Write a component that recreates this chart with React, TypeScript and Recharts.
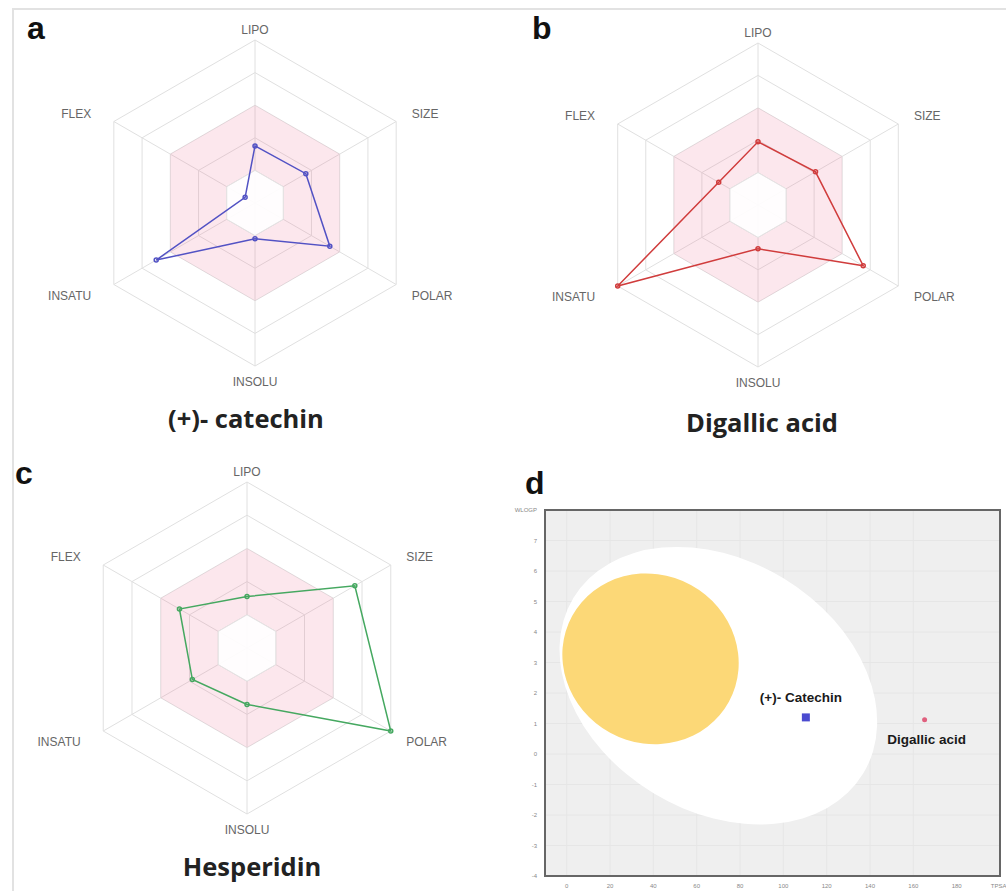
import React from "react";
import * as R from "recharts";

const {
  RadarChart,
  Radar,
  PolarGrid,
  PolarAngleAxis,
  PolarRadiusAxis,
  ScatterChart,
  Scatter,
  XAxis,
  YAxis,
  ZAxis,
  CartesianGrid,
  Customized,
  LabelList,
} = R as any;

// bioavailability radar axes, clockwise from the top
const radarAxes = ["LIPO", "SIZE", "POLAR", "INSOLU", "INSATU", "FLEX"];
// values as a fraction of the radar radius
const catechinRadar = [0.35, 0.36, 0.53, 0.22, 0.7, 0.07];
const digallicRadar = [0.39, 0.41, 0.75, 0.27, 1.0, 0.28];
const hesperidinRadar = [0.31, 0.75, 1.0, 0.34, 0.38, 0.47];
// pink optimal band
const optimalUpper = [0.6, 0.6, 0.6, 0.6, 0.6, 0.6];
const optimalLower = [0.2, 0.2, 0.2, 0.2, 0.2, 0.2];
const gridLevels = [0.2, 0.4, 0.6, 0.8, 1.0];

// BOILED-Egg plot
const tpsaDomain = [-10, 200];
const wlogpDomain = [-4, 8];
const tpsaTicks = [0, 20, 40, 60, 80, 100, 120, 140, 160, 180, 200];
const wlogpTicks = [-4, -3, -2, -1, 0, 1, 2, 3, 4, 5, 6, 7, 8];
// egg regions: [center TPSA, center WLOGP, TPSA half extent, WLOGP half extent, correlation]
const eggWhite = [70, 2.24, 73.3, 4.55, -0.26];
const eggYolk = [38.7, 3.12, 40.7, 2.8, -0.05];
const eggCompounds = ["(+)- Catechin", "Digallic acid"];
const eggTPSA = [110.4, 165.2];
const eggWLOGP = [1.2, 1.12];

const usePlotAreaSafe: () => any = (R as any).usePlotArea ?? (() => null);

function radarTick(props: any) {
  const { x, y, cx, cy, payload } = props;
  const dx = x - cx;
  const dy = y - cy;
  const len = Math.sqrt(dx * dx + dy * dy) || 1;
  let px = x + (dx / len) * 10;
  let py = y + (dy / len) * 8;
  const anchor = Math.abs(dx) < 1 ? "middle" : dx > 0 ? "start" : "end";
  if (dx < -1) px -= 7; // left-hand labels sit a bit further out
  if (Math.abs(dx) < 1 && dy < 0) py += 6; // LIPO
  if (Math.abs(dx) > 1 && dy > 0) py += 3;
  return (
    <text
      x={px}
      y={py}
      textAnchor={anchor}
      dominantBaseline="central"
      fontSize={12}
      fill="#666"
      fontFamily="Liberation Sans, Arial, sans-serif"
    >
      {payload.value}
    </text>
  );
}

function BioRadar({
  values,
  color,
  cx,
  cy,
  radius,
}: {
  values: number[];
  color: string;
  cx: number;
  cy: number;
  radius: number;
}) {
  const data = radarAxes.map((axis, i) => ({
    axis,
    value: values[i],
    upper: optimalUpper[i],
    lower: optimalLower[i],
  }));
  return (
    <RadarChart
      width={500}
      height={440}
      data={data}
      cx={cx}
      cy={cy}
      outerRadius={radius}
      margin={{ top: 0, right: 0, bottom: 0, left: 0 }}
    >
      <PolarGrid gridType="polygon" stroke="#e0e0e0" polarRadius={gridLevels.map((l) => l * radius)} />
      <PolarRadiusAxis domain={[0, 1]} tickCount={6} tick={false} axisLine={false} />
      <PolarAngleAxis dataKey="axis" tick={radarTick} tickLine={false} axisLine={false} />
      <Radar dataKey="upper" stroke="none" fill="#ee6f96" fillOpacity={0.17} isAnimationActive={false} />
      <Radar dataKey="lower" stroke="#e4e4e4" fill="#ffffff" fillOpacity={0.92} isAnimationActive={false} />
      <Radar
        dataKey="value"
        stroke={color}
        strokeWidth={1.5}
        fill="none"
        fillOpacity={0}
        dot={{ r: 2, fill: color, stroke: color }}
        isAnimationActive={false}
      />
    </RadarChart>
  );
}

// ellipse from centre / extents / correlation, mapped through the plot area
function ellipseFor(region: number[], area: any, fill: string) {
  const [mx, my, ex, ey, rho] = region;
  const kx = area.width / (tpsaDomain[1] - tpsaDomain[0]);
  const ky = area.height / (wlogpDomain[1] - wlogpDomain[0]);
  const cx = area.x + (mx - tpsaDomain[0]) * kx;
  const cy = area.y + (wlogpDomain[1] - my) * ky;
  const sxx = (ex * kx) ** 2;
  const syy = (ey * ky) ** 2;
  const sxy = -rho * ex * kx * ey * ky;
  const mid = (sxx + syy) / 2;
  const d = Math.sqrt(((sxx - syy) / 2) ** 2 + sxy * sxy);
  const rx = Math.sqrt(mid + d);
  const ry = Math.sqrt(Math.max(mid - d, 0));
  const theta = (0.5 * Math.atan2(2 * sxy, sxx - syy) * 180) / Math.PI;
  return (
    <ellipse cx={cx} cy={cy} rx={rx} ry={ry} fill={fill} transform={`rotate(${theta} ${cx} ${cy})`} />
  );
}

function EggLayer() {
  const area = usePlotAreaSafe();
  if (!area) return null;
  return (
    <g>
      {ellipseFor(eggWhite, area, "#ffffff")}
      {ellipseFor(eggYolk, area, "#fcd877")}
      <rect x={area.x} y={area.y} width={area.width} height={area.height} fill="none" stroke="#666" strokeWidth={2} />
    </g>
  );
}

const eggLabelFont = { fontSize: 13.5, fontWeight: 700, fill: "#1a1a1a", fontFamily: "Liberation Sans, Arial, sans-serif" };

function eggLabel(above: boolean) {
  return (props: any) => {
    const vb = props.viewBox ?? props;
    const cx = vb.x + (vb.width ?? 0) / 2;
    const top = vb.y;
    const bottom = vb.y + (vb.height ?? 0);
    return (
      <text
        x={cx + (above ? -5 : 2)}
        y={above ? top - 15 : bottom + 15}
        textAnchor="middle"
        dominantBaseline="central"
        {...eggLabelFont}
      >
        {props.value}
      </text>
    );
  };
}

function smallDot(props: any) {
  return <circle cx={props.cx} cy={props.cy} r={2.5} fill="#e0607e" />;
}

function BoiledEgg() {
  const catechin = [{ name: eggCompounds[0], tpsa: eggTPSA[0], wlogp: eggWLOGP[0] }];
  const digallic = [{ name: eggCompounds[1], tpsa: eggTPSA[1], wlogp: eggWLOGP[1] }];
  const tickStyle = { fontSize: 6, fill: "#888", fontFamily: "Liberation Sans, Arial, sans-serif" };
  return (
    <ScatterChart width={506} height={401} margin={{ top: 20, right: 6, bottom: 0, left: 0 }}>
      <CartesianGrid fill="#efefef" stroke="#e6e6e6" />
      <XAxis
        type="number"
        dataKey="tpsa"
        domain={tpsaDomain}
        ticks={tpsaTicks}
        allowDataOverflow
        height={15}
        tick={tickStyle}
        tickLine={false}
        axisLine={false}
        tickFormatter={(v: number) => (v === 200 ? "TPSA" : String(v))}
      />
      <YAxis
        type="number"
        dataKey="wlogp"
        domain={wlogpDomain}
        ticks={wlogpTicks}
        allowDataOverflow
        width={45}
        tick={tickStyle}
        tickLine={false}
        axisLine={false}
        tickFormatter={(v: number) => (v === 8 ? "WLOGP" : String(v))}
      />
      <ZAxis range={[22, 22]} />
      <Customized component={<EggLayer />} />
      <Scatter data={catechin} fill="#4b4bd0" shape="square" isAnimationActive={false}>
        <LabelList dataKey="name" content={eggLabel(true)} />
      </Scatter>
      <Scatter data={digallic} fill="#e0607e" shape={smallDot} isAnimationActive={false}>
        <LabelList dataKey="name" content={eggLabel(false)} />
      </Scatter>
    </ScatterChart>
  );
}

const letterStyle: React.CSSProperties = {
  position: "absolute",
  fontFamily: "Liberation Sans, Arial, sans-serif",
  fontWeight: 700,
  fontSize: 32,
  lineHeight: "32px",
  color: "#111",
};

const titleStyle: React.CSSProperties = {
  position: "absolute",
  width: 300,
  textAlign: "center",
  fontFamily: "Open Sans, sans-serif",
  fontWeight: 700,
  fontSize: 25.5,
  lineHeight: "30px",
  color: "#222",
};

export default function App() {
  return (
    <div
      style={{
        position: "fixed",
        left: 0,
        top: 0,
        width: 1006,
        height: 891,
        background: "#fff",
        overflow: "hidden",
      }}
    >
      {/* light frame */}
      <div style={{ position: "absolute", left: 12, top: 8, width: 994, height: 881, borderLeft: "2px solid #e2e2e2", borderTop: "2px solid #e2e2e2", borderBottom: "2px solid #e2e2e2" }} />

      <div style={{ position: "absolute", left: 0, top: 0 }}>
        <BioRadar values={catechinRadar} color="#5252c4" cx={255} cy={203} radius={163} />
      </div>
      <div style={{ position: "absolute", left: 500, top: 0 }}>
        <BioRadar values={digallicRadar} color="#d03c3c" cx={258} cy={205} radius={162} />
      </div>
      <div style={{ position: "absolute", left: 0, top: 440 }}>
        <BioRadar values={hesperidinRadar} color="#45a860" cx={247} cy={208} radius={166} />
      </div>
      <div style={{ position: "absolute", left: 500, top: 490 }}>
        <BoiledEgg />
      </div>

      <div style={{ ...letterStyle, left: 27, top: 12 }}>a</div>
      <div style={{ ...letterStyle, left: 532, top: 12 }}>b</div>
      <div style={{ ...letterStyle, left: 15, top: 457 }}>c</div>
      <div style={{ ...letterStyle, left: 525, top: 467 }}>d</div>

      <div style={{ ...titleStyle, left: 96, top: 403 }}>(+)- catechin</div>
      <div style={{ ...titleStyle, left: 612, top: 407 }}>Digallic acid</div>
      <div style={{ ...titleStyle, left: 102, top: 851 }}>Hesperidin</div>
    </div>
  );
}
